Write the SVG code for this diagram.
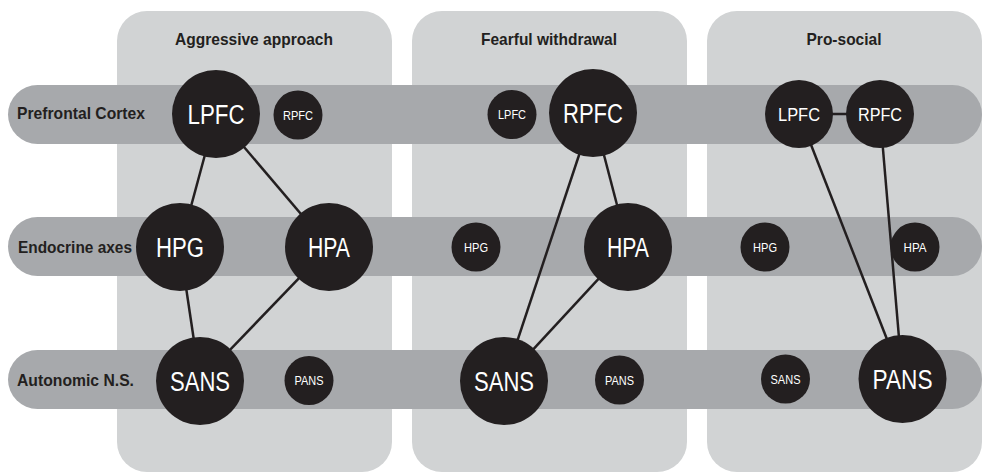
<svg xmlns="http://www.w3.org/2000/svg" width="983" height="473" viewBox="0 0 983 473">
<style>
.panel{fill:#d1d3d4}
.band{fill:#a7a9ac}
.node{fill:#231f20}
.edge{stroke:#231f20;stroke-width:2.5;fill:none}
.title{font-family:"Liberation Sans",Arial,sans-serif;font-weight:bold;font-size:17px;fill:#231f20;text-anchor:middle}
.row{font-family:"Liberation Sans",Arial,sans-serif;font-weight:bold;font-size:16.5px;fill:#231f20}
.big{font-family:"Liberation Sans",Arial,sans-serif;font-size:27px;fill:#ffffff;text-anchor:middle}
.mid{font-family:"Liberation Sans",Arial,sans-serif;font-size:18px;fill:#ffffff;text-anchor:middle}
.small{font-family:"Liberation Sans",Arial,sans-serif;font-size:13px;fill:#ffffff;text-anchor:middle}
</style>
<g id="panels">
<rect class="panel" x="117" y="11" width="275" height="461" rx="30"/>
<rect class="panel" x="412" y="11" width="275" height="461" rx="30"/>
<rect class="panel" x="707" y="11" width="275" height="461" rx="30"/>
<text class="title" x="254" y="45" textLength="158" lengthAdjust="spacingAndGlyphs">Aggressive approach</text>
<text class="title" x="549" y="45" textLength="136" lengthAdjust="spacingAndGlyphs">Fearful withdrawal</text>
<text class="title" x="844" y="45" textLength="75" lengthAdjust="spacingAndGlyphs">Pro-social</text>
</g>
<g id="bands">
<rect class="band" x="8" y="85" width="974" height="59" rx="29.5"/>
<rect class="band" x="8" y="217" width="974" height="59" rx="29.5"/>
<rect class="band" x="8" y="350" width="974" height="59" rx="29.5"/>
<text class="row" x="17" y="119" textLength="128" lengthAdjust="spacingAndGlyphs">Prefrontal Cortex</text>
<text class="row" x="18" y="252.5" textLength="114" lengthAdjust="spacingAndGlyphs">Endocrine axes</text>
<text class="row" x="17" y="385.5" textLength="117" lengthAdjust="spacingAndGlyphs">Autonomic N.S.</text>
</g>
<g id="connectors">
<line class="edge" x1="216" y1="114" x2="180" y2="247"/>
<line class="edge" x1="216" y1="114" x2="329" y2="247"/>
<line class="edge" x1="180" y1="247" x2="200" y2="381"/>
<line class="edge" x1="329" y1="247" x2="200" y2="381"/>
<line class="edge" x1="593" y1="113" x2="628" y2="247"/>
<line class="edge" x1="593" y1="113" x2="504" y2="381"/>
<line class="edge" x1="628" y1="247" x2="504" y2="381"/>
<line class="edge" x1="799" y1="114" x2="880" y2="114"/>
<line class="edge" x1="799" y1="114" x2="902.5" y2="379"/>
<line class="edge" x1="880" y1="114" x2="902.5" y2="379"/>
</g>
<g id="agg-LPFC"><circle class="node" cx="216" cy="114" r="44"/><text class="big" x="216" y="123.5" textLength="57" lengthAdjust="spacingAndGlyphs">LPFC</text></g>
<g id="agg-RPFC"><circle class="node" cx="298" cy="115" r="24.5"/><text class="small" x="298" y="119.7" textLength="30" lengthAdjust="spacingAndGlyphs">RPFC</text></g>
<g id="agg-HPG"><circle class="node" cx="180" cy="247" r="44"/><text class="big" x="180" y="256.5" textLength="48" lengthAdjust="spacingAndGlyphs">HPG</text></g>
<g id="agg-HPA"><circle class="node" cx="329" cy="247" r="44"/><text class="big" x="329" y="256.5" textLength="42" lengthAdjust="spacingAndGlyphs">HPA</text></g>
<g id="agg-SANS"><circle class="node" cx="200" cy="381" r="44"/><text class="big" x="200" y="390.5" textLength="60" lengthAdjust="spacingAndGlyphs">SANS</text></g>
<g id="agg-PANS"><circle class="node" cx="309" cy="380.5" r="24.5"/><text class="small" x="309" y="385.2" textLength="29" lengthAdjust="spacingAndGlyphs">PANS</text></g>
<g id="fear-LPFC"><circle class="node" cx="512" cy="114.5" r="24.5"/><text class="small" x="512" y="119.2" textLength="28" lengthAdjust="spacingAndGlyphs">LPFC</text></g>
<g id="fear-RPFC"><circle class="node" cx="593" cy="113" r="44"/><text class="big" x="593" y="122.5" textLength="60" lengthAdjust="spacingAndGlyphs">RPFC</text></g>
<g id="fear-HPG"><circle class="node" cx="476" cy="247" r="24.5"/><text class="small" x="476" y="251.7" textLength="24" lengthAdjust="spacingAndGlyphs">HPG</text></g>
<g id="fear-HPA"><circle class="node" cx="628" cy="247" r="44"/><text class="big" x="628" y="256.5" textLength="42" lengthAdjust="spacingAndGlyphs">HPA</text></g>
<g id="fear-SANS"><circle class="node" cx="504" cy="381" r="44"/><text class="big" x="504" y="390.5" textLength="60" lengthAdjust="spacingAndGlyphs">SANS</text></g>
<g id="fear-PANS"><circle class="node" cx="619.5" cy="380" r="24.5"/><text class="small" x="619.5" y="384.7" textLength="29" lengthAdjust="spacingAndGlyphs">PANS</text></g>
<g id="pro-LPFC"><circle class="node" cx="799" cy="114" r="34"/><text class="mid" x="799" y="120.5" textLength="42" lengthAdjust="spacingAndGlyphs">LPFC</text></g>
<g id="pro-RPFC"><circle class="node" cx="880" cy="114" r="34"/><text class="mid" x="880" y="120.5" textLength="44" lengthAdjust="spacingAndGlyphs">RPFC</text></g>
<g id="pro-HPG"><circle class="node" cx="765" cy="247" r="24.5"/><text class="small" x="765" y="251.7" textLength="24" lengthAdjust="spacingAndGlyphs">HPG</text></g>
<g id="pro-HPA"><circle class="node" cx="915" cy="247" r="24.5"/><text class="small" x="915" y="251.7" textLength="23" lengthAdjust="spacingAndGlyphs">HPA</text></g>
<g id="pro-SANS"><circle class="node" cx="785.5" cy="379" r="24.5"/><text class="small" x="785.5" y="383.7" textLength="30" lengthAdjust="spacingAndGlyphs">SANS</text></g>
<g id="pro-PANS"><circle class="node" cx="902.5" cy="379" r="44"/><text class="big" x="902.5" y="388.5" textLength="60" lengthAdjust="spacingAndGlyphs">PANS</text></g>
</svg>
